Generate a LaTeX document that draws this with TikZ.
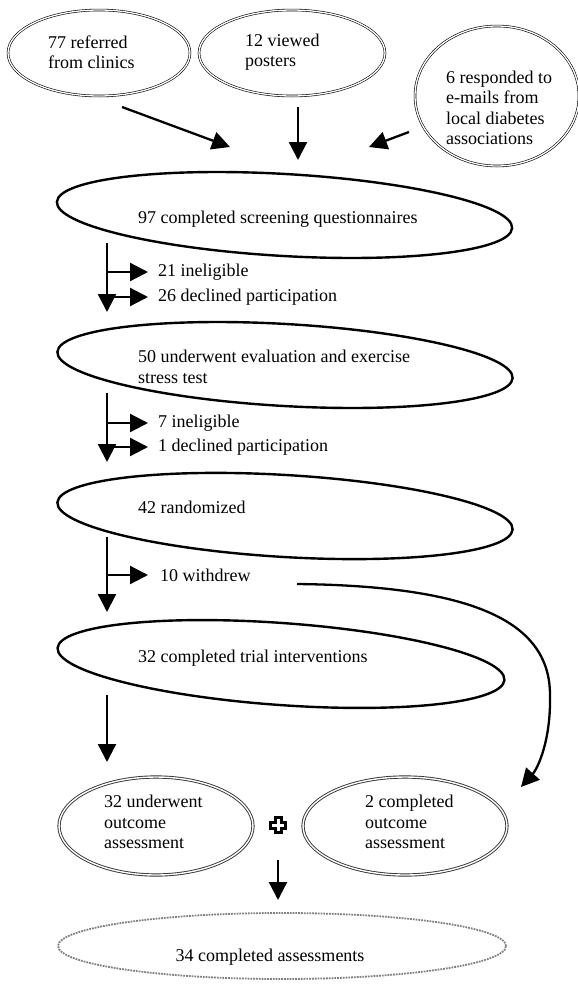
\documentclass[tikz,border=0pt]{standalone}
\usepackage{fontspec}
\setmainfont{Liberation Serif}
\usetikzlibrary{shapes.geometric,arrows.meta}

\begin{document}
\begin{tikzpicture}[
    x=1pt, y=-1pt,
    source/.style={
        ellipse, draw=black, line width=0.6pt,
        double=white, double distance=1.3pt,
        inner sep=0pt,
    },
    stage/.style={
        ellipse, draw=black, line width=2.4pt, inner sep=0pt,
        minimum width=456pt, minimum height=82pt,
    },
    outcome/.style={
        ellipse, draw=black!80, line width=0.9pt,
        double=white, double distance=1.4pt, inner sep=0pt,
    },
    total/.style={
        ellipse, draw=black!50, line width=1.8pt, densely dotted, inner sep=0pt,
    },
    txt/.style={
        inner sep=0pt, anchor=west, align=left,
        font=\fontsize{18}{20.5}\selectfont,
    },
    flow/.style={
        line width=2.3pt, -{Triangle[length=18pt,width=18pt]},
    },
]
\useasboundingbox (0,0) rectangle (578,988);

% Recruitment sources
\node[source, minimum width=182pt, minimum height=86pt] (clin) at (99,53) {};
\node[source, minimum width=186pt, minimum height=86pt] (post) at (292,53) {};
\node[source, minimum width=164pt, minimum height=140pt] (mail) at (497,96) {};
\node[txt] (clintxt) at (48,52) {77 referred\\from clinics};
\node[txt] (posttxt) at (245,52) {12 viewed\\posters};
\node[txt] (mailtxt) at (446,108) {6 responded to\\e-mails from\\local diabetes\\associations};

\coordinate (a1s) at (122,107); \coordinate (a1e) at (230,147);
\coordinate (a2s) at (298,107); \coordinate (a2e) at (298,160);
\coordinate (a3s) at (409,132); \coordinate (a3e) at (369,147);
\draw[flow] (a1s) -- (a1e);
\draw[flow] (a2s) -- (a2e);
\draw[flow] (a3s) -- (a3e);

% Stages of the trial
\node[stage, rotate=-3.3] (scr) at (284.5,215) {};
\node[txt] (scrtxt) at (138,219) {97 completed screening questionnaires};
\node[stage, rotate=-3.3] (eval) at (285,365) {};
\node[txt] (evaltxt) at (138,367) {50 underwent evaluation and exercise\\stress test};
\node[stage, rotate=-3.4] (rand) at (285,516) {};
\node[txt] (randtxt) at (138,507) {42 randomized};
\node[stage, rotate=-4.1, minimum width=448pt] (trial) at (281,664) {};
\node[txt] (trialtxt) at (138,658) {32 completed trial interventions};

\node[txt] (inel1) at (158,272) {21 ineligible};
\node[txt] (decl1) at (158,297) {26 declined participation};
\node[txt] (inel2) at (158,423) {7 ineligible};
\node[txt] (decl2) at (158,447) {1 declined participation};
\node[txt] (wdr) at (160,575) {10 withdrew};

\coordinate (b1s) at (107,243); \coordinate (b1e) at (107,312);
\coordinate (b2s) at (107,393); \coordinate (b2e) at (107,462);
\coordinate (b3s) at (107,537); \coordinate (b3e) at (107,612);
\coordinate (b4s) at (107,695); \coordinate (b4e) at (107,762);
\draw[flow] (b1s) -- (b1e);
\draw[flow] (b1s |- inel1.west) -- ([xshift=-10pt]inel1.west);
\draw[flow] (b1s |- decl1.west) -- ([xshift=-10pt]decl1.west);
\draw[flow] (b2s) -- (b2e);
\draw[flow] (b2s |- inel2.west) -- ([xshift=-10pt]inel2.west);
\draw[flow] (b2s |- decl2.west) -- ([xshift=-10pt]decl2.west);
\draw[flow] (b3s) -- (b3e);
\draw[flow] (b3s |- wdr.west) -- ([xshift=-12pt]wdr.west);
\draw[flow] (b4s) -- (b4e);

% Outcome assessments
\node[outcome, minimum width=194pt, minimum height=98pt] (outa) at (156,826) {};
\node[outcome, minimum width=204pt, minimum height=98pt] (outb) at (405,826) {};
\node[txt] (outatxt) at (104,822) {32 underwent\\outcome\\assessment};
\node[txt] (outbtxt) at (365,822) {2 completed\\outcome\\assessment};

\coordinate (wds) at (297,584);
\coordinate (wdm) at (550,695);
\coordinate (wde) at (521,787);
\draw[flow] (wds) .. controls (470,586) and (550,620) .. (wdm)
    .. controls (551,740) and (538,768) .. (wde);

\coordinate (plus) at (278,825);
\draw[line width=3pt, fill=white, line join=miter]
    ([shift={(-3,-7.5)}]plus) -- ++(6,0) -- ++(0,4.5) -- ++(4.5,0) -- ++(0,6)
    -- ++(-4.5,0) -- ++(0,4.5) -- ++(-6,0) -- ++(0,-4.5) -- ++(-4.5,0)
    -- ++(0,-6) -- ++(4.5,0) -- cycle;

\coordinate (c1s) at (278,860); \coordinate (c1e) at (278,900);
\draw[flow] (c1s) -- (c1e);

\node[total, minimum width=448pt, minimum height=66pt] (all) at (282,946) {};
\node[inner sep=0pt, font=\fontsize{18}{20.5}\selectfont] (alltxt) at (270,957) {34 completed assessments};

\end{tikzpicture}
\end{document}
